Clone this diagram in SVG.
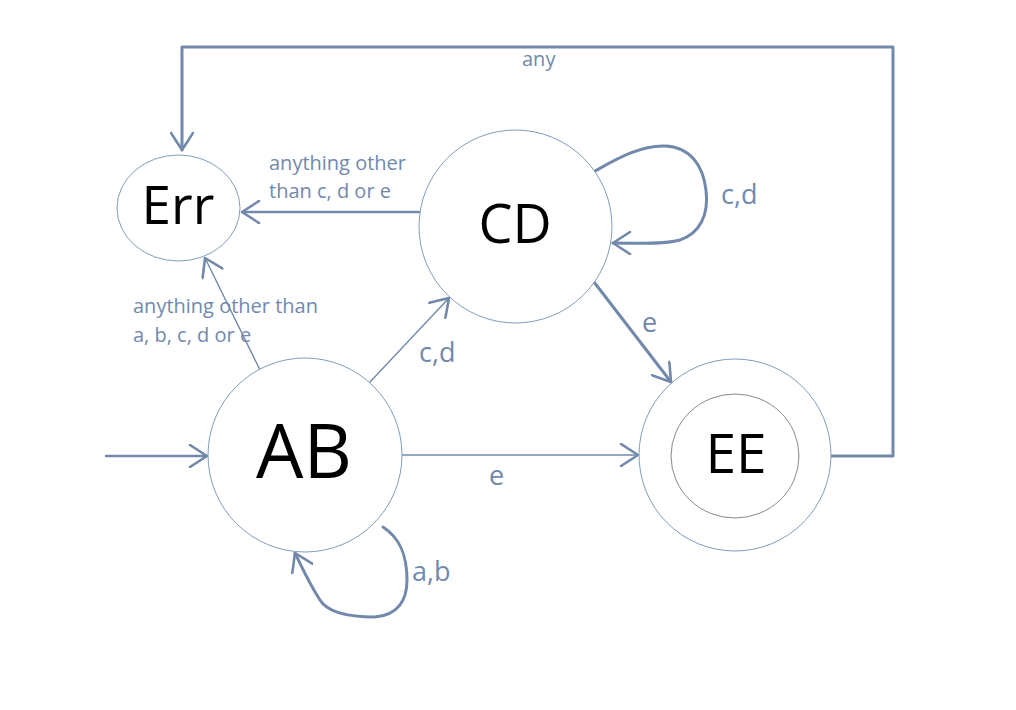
<svg xmlns="http://www.w3.org/2000/svg" width="1016" height="710" viewBox="0 0 1016 710">
<defs>
<style>
.node{fill:#fff;stroke:#7f9dbc;stroke-width:1}
.inner{fill:#fff;stroke:#6b6b6b;stroke-width:0.8}
.nl{font-family:"Open Sans","Liberation Sans",sans-serif;fill:#000;text-anchor:middle}
.e{fill:none;stroke:#7389ab;stroke-linecap:round;stroke-linejoin:round}
.thick{stroke-width:3}
.mid{stroke-width:2.4}
.thin{stroke-width:1.4}
.lb{font-family:"Open Sans","Liberation Sans",sans-serif;fill:#7389ab}
.s{font-size:20px}
.b{font-size:27px}
</style>
<marker id="ah" markerWidth="24" markerHeight="24" refX="0" refY="0" viewBox="-22 -12 24 24" orient="auto" markerUnits="userSpaceOnUse">
<path d="M-17,-11 L0,0 L-17,11" fill="none" stroke="#7389ab" stroke-width="2.6" stroke-linecap="round" stroke-linejoin="round"/>
</marker>
</defs>
<rect width="1016" height="710" fill="#fff"/>
<g id="connectors">
<path class="e thick" d="M831,456 H893 V47 H182 V150" marker-end="url(#ah)"/>
<path class="e mid" d="M419,212 H242" marker-end="url(#ah)"/>
<path class="e thin" d="M260,370 L205,258" marker-end="url(#ah)"/>
<path class="e thin" d="M370,382 L449,298" marker-end="url(#ah)"/>
<path class="e thick" d="M595,171 C615,160 640,145 665,146 C690,147 703,165 706,190 C709,215 700,233 680,240 C660,245 635,243 613,243" marker-end="url(#ah)"/>
<path class="e thick" d="M594,282 L671,382" marker-end="url(#ah)"/>
<path class="e thin" d="M402,455 H638" marker-end="url(#ah)"/>
<path class="e mid" d="M106,456 H207" marker-end="url(#ah)"/>
<path class="e thick" d="M383,527 C400,538 407,555 407,580 C407,600 398,615 375,617 C350,617 328,613 320,600 C310,585 303,570 295,553" marker-end="url(#ah)"/>
<text class="lb s" x="522" y="66">any</text>
<text class="lb s" x="269" y="170">anything other</text>
<text class="lb s" x="269" y="198">than c, d or e</text>
<text class="lb s" x="133" y="313">anything other than</text>
<text class="lb s" x="133" y="342">a, b, c, d or e</text>
<text class="lb b" x="419" y="362">c,d</text>
<text class="lb b" x="721" y="204">c,d</text>
<text class="lb b" x="642" y="332">e</text>
<text class="lb b" x="489" y="485">e</text>
<text class="lb b" x="412" y="581">a,b</text>
</g>
<g id="node-err">
<ellipse class="node" cx="178.5" cy="208" rx="61.5" ry="53"/>
<text class="nl" x="178" y="224" font-size="53">Err</text>
</g>
<g id="node-cd">
<circle class="node" cx="515.5" cy="226.5" r="96.5"/>
<text class="nl" x="515" y="243" font-size="54">CD</text>
</g>
<g id="node-ab">
<circle class="node" cx="305" cy="455" r="97"/>
<text class="nl" x="304" y="478" font-size="75">AB</text>
</g>
<g id="node-ee">
<circle class="node" cx="735" cy="455" r="96"/>
<ellipse class="inner" cx="735" cy="456" rx="64" ry="62"/>
<text class="nl" x="736" y="473" font-size="55">EE</text>
</g>
</svg>
